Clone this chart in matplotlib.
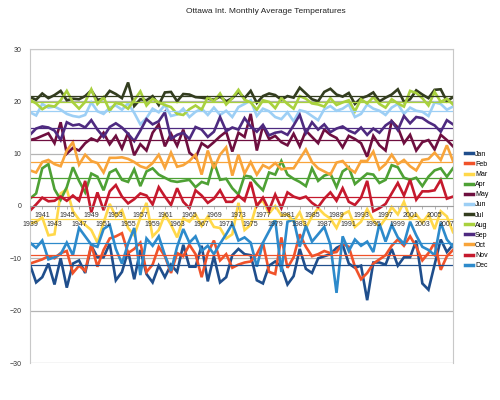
import numpy as np
import matplotlib
matplotlib.use("Agg")
import matplotlib.pyplot as plt

plt.rcParams['font.family'] = ['Liberation Sans', 'DejaVu Sans']

years = list(range(1939, 2009))
months = ["Jan", "Feb", "Mar", "Apr", "May", "Jun", "Jul", "Aug", "Sep", "Oct", "Nov", "Dec"]
colors = ["#1f4e8c", "#f0522a", "#ffd84a", "#4ea135", "#6e0f3f", "#9dcff5",
          "#333d1f", "#a9d13e", "#4e2a80", "#f8a43a", "#c5192d", "#2d8acb"]

jan = [-11.2, -14.6, -13.6, -11.0, -15.0, -10.0, -15.6, -11.0, -10.4, -12.8,
       -7.6, -9.8, -9.8, -7.2, -14.2, -12.6, -8.6, -14.0, -8.4, -13.0,
       -14.6, -11.4, -13.6, -11.2, -12.6, -7.4, -11.6, -11.6, -7.6, -14.4,
       -9.6, -14.6, -13.6, -9.4, -8.2, -9.2, -9.4, -14.2, -14.8, -11.4,
       -10.6, -11.6, -15.0, -13.4, -8.2, -12.0, -12.8, -10.0, -9.6, -9.2,
       -8.0, -7.4, -11.0, -11.8, -11.4, -18.0, -10.8, -10.8, -11.2, -8.2,
       -11.4, -9.8, -9.8, -6.6, -14.8, -16.0, -11.2, -6.4, -8.8, -7.4]
feb = [-11.0, -10.6, -10.2, -9.6, -10.0, -9.0, -8.6, -12.8, -11.4, -12.4,
       -7.4, -11.6, -8.4, -6.2, -5.8, -5.2, -9.0, -8.2, -7.0, -12.6,
       -11.2, -7.8, -9.6, -12.8, -9.0, -9.6, -7.4, -9.2, -13.6, -9.0,
       -6.6, -10.4, -9.2, -11.8, -11.2, -10.8, -10.6, -9.2, -7.0, -12.6,
       -13.0, -6.0, -11.8, -9.8, -5.4, -7.8, -9.6, -9.2, -8.6, -9.0,
       -8.8, -7.2, -7.8, -11.6, -14.0, -12.8, -11.0, -10.2, -9.4, -7.6,
       -6.4, -7.6, -5.8, -7.8, -10.4, -9.0, -7.0, -12.2, -9.6, -8.4]
mar = [-3.4, -3.0, -2.2, -5.6, -5.4, 2.4, 3.2, -1.0, -2.6, -3.6,
       -4.6, -7.0, -3.2, 0.4, -2.0, -0.8, -4.2, -5.6, -2.2, 0.6,
       -5.8, -4.6, -1.6, -3.6, -6.0, -2.4, -3.0, -1.6, -3.8, -2.0,
       -4.0, -4.2, -6.2, -5.4, 0.6, -4.6, -3.6, 0.4, 1.0, -1.4,
       0.0, -1.8, -1.6, -3.0, -1.2, -4.2, -2.0, -0.4, -1.6, -2.4,
       -4.2, -1.6, -1.0, -4.0, -3.0, -0.6, -2.8, -4.0, -2.4, -0.2,
       -1.6, 0.8, -2.4, -1.6, -3.2, -1.6, -4.4, -1.0, -2.0, -5.0]
apr = [1.4, 2.4, 7.2, 8.0, 3.2, 1.2, 3.6, 7.4, 4.8, 2.6,
       6.2, 5.6, 3.0, 6.4, 7.0, 5.0, 4.6, 7.0, 3.8, 6.6,
       7.2, 6.0, 5.4, 4.8, 4.6, 4.8, 5.0, 3.6, 4.6, 4.2,
       8.4, 5.0, 5.2, 3.4, 2.2, 5.8, 5.6, 4.2, 3.0, 6.4,
       6.0, 8.6, 6.0, 5.2, 4.6, 3.8, 7.2, 4.8, 5.8, 6.2,
       3.6, 6.6, 7.4, 4.2, 5.2, 6.2, 6.0, 4.4, 5.0, 7.8,
       7.4, 5.4, 5.0, 5.4, 3.8, 5.6, 6.8, 7.2, 5.6, 7.2]
may = [12.6, 12.9, 13.4, 13.9, 12.0, 16.0, 10.0, 11.1, 10.6, 12.0,
       12.9, 12.4, 14.0, 11.8, 13.4, 11.0, 14.0, 9.7, 11.8, 10.6,
       14.0, 15.6, 11.4, 13.8, 11.5, 14.6, 10.2, 9.2, 12.0, 11.2,
       12.2, 13.3, 14.2, 10.4, 14.0, 13.2, 17.6, 10.6, 15.3, 12.8,
       13.4, 12.2, 11.6, 13.8, 11.4, 14.4, 13.2, 12.0, 14.6, 13.6,
       13.0, 11.2, 13.4, 12.8, 12.0, 9.4, 13.4, 11.6, 10.6, 16.2,
       15.0, 12.0, 13.6, 10.6, 12.2, 12.6, 10.8, 13.6, 12.6, 11.4]
jun = [17.9, 17.3, 19.5, 18.8, 19.0, 18.4, 17.6, 17.2, 17.0, 17.4,
       19.8, 18.1, 17.6, 18.8, 19.2, 18.4, 19.6, 17.8, 15.6, 16.8,
       18.6, 17.9, 19.3, 17.2, 17.5, 18.6, 17.0, 18.0, 18.6, 17.4,
       18.8, 17.4, 18.2, 17.0, 18.9, 19.5, 20.2, 17.2, 18.6, 18.1,
       17.0, 16.6, 17.9, 16.2, 18.3, 18.0, 17.2, 16.4, 18.5, 19.1,
       18.2, 18.6, 19.4, 17.0, 17.6, 19.4, 18.6, 18.2, 17.4, 18.8,
       19.5, 17.6, 18.8, 18.2, 18.0, 17.2, 19.8, 19.5, 18.4, 19.0]
jul = [20.8, 20.3, 21.5, 20.6, 21.2, 22.0, 20.2, 20.5, 20.4, 21.0,
       22.1, 20.3, 20.5, 22.0, 21.4, 20.6, 23.6, 19.1, 20.4, 20.2,
       21.0, 19.3, 21.7, 21.8, 20.0, 21.4, 21.3, 20.8, 20.7, 20.5,
       20.3, 20.9, 20.0, 20.6, 21.8, 20.6, 22.0, 19.7, 21.0, 21.5,
       21.2, 20.3, 21.0, 20.7, 22.6, 21.5, 20.4, 20.0, 21.8, 22.4,
       21.3, 20.9, 21.6, 19.5, 20.6, 21.0, 21.7, 20.0, 20.7, 21.3,
       22.3, 19.9, 20.4, 22.1, 21.3, 20.6, 22.2, 22.3, 20.0, 20.8]
aug = [20.3, 19.6, 18.5, 19.2, 19.0, 20.2, 22.0, 19.8, 18.6, 19.9,
       22.3, 19.5, 20.8, 18.2, 19.7, 19.4, 18.6, 20.2, 21.9, 19.2,
       20.5, 19.8, 19.3, 18.9, 17.6, 17.4, 18.5, 19.2, 18.4, 20.8,
       20.0, 21.5, 19.4, 20.6, 22.2, 20.3, 19.8, 18.4, 20.2, 19.9,
       18.7, 20.6, 19.5, 18.6, 21.0, 20.5, 19.6, 19.4, 19.0, 20.6,
       19.3, 19.8, 20.2, 18.1, 20.4, 19.6, 20.8, 19.5, 18.8, 20.4,
       19.6, 19.0, 22.0, 21.6, 20.6, 19.2, 21.8, 19.9, 20.5, 19.4]
sep = [13.6, 14.8, 15.2, 15.0, 14.4, 12.6, 16.0, 15.4, 15.6, 15.0,
       16.4, 14.6, 13.2, 15.1, 15.8, 15.0, 13.8, 12.4, 14.4, 16.6,
       15.6, 16.2, 17.9, 12.8, 13.6, 14.0, 12.8, 15.1, 14.6, 13.2,
       14.2, 17.0, 14.3, 15.0, 14.6, 16.8, 15.2, 14.2, 15.5, 13.5,
       14.0, 14.2, 13.6, 15.4, 17.4, 13.9, 16.0, 14.6, 15.6, 14.1,
       14.8, 15.2, 14.4, 13.9, 15.0, 13.6, 14.8, 14.0, 15.4, 16.2,
       14.5, 17.2, 15.8, 17.0, 16.8, 16.0, 15.4, 14.2, 16.4, 15.6]
oct_ = [6.8, 6.4, 8.4, 8.8, 8.0, 7.6, 10.6, 12.2, 7.9, 9.8,
        8.6, 8.2, 6.4, 9.2, 9.2, 9.3, 9.0, 8.4, 7.6, 7.2,
        8.2, 9.8, 7.3, 10.2, 7.5, 7.8, 8.6, 9.8, 6.0, 10.6,
        7.2, 9.8, 11.2, 5.8, 9.8, 6.2, 8.4, 6.0, 7.8, 7.2,
        8.2, 7.0, 7.2, 7.2, 9.0, 10.8, 8.4, 7.2, 6.6, 6.0,
        8.3, 8.6, 7.2, 6.4, 8.6, 8.6, 10.4, 7.0, 8.0, 9.8,
        8.0, 8.8, 7.6, 6.8, 8.8, 9.0, 10.2, 8.8, 11.6, 8.6]
nov = [-0.9, 0.3, 1.6, 0.9, 1.0, 1.8, 1.0, 2.0, 1.0, 4.8,
       -1.2, 2.6, -0.8, 2.8, 4.0, 1.8, 0.5, 1.3, 2.4, 2.0,
       0.3, 3.6, 1.8, 0.2, 3.4, 0.8, -0.4, 3.0, 2.0, 0.6,
       1.4, 3.0, 0.8, 0.8, 2.0, 1.0, 4.6, 0.0, 1.6, -0.8,
       2.2, -0.4, 2.6, 1.8, 1.4, 1.8, 0.6, -0.2, 1.4, 2.6,
       1.0, 3.4, 0.8, 0.2, 1.6, 4.8, -1.0, -0.4, 0.4, 2.4,
       4.4, 2.0, 5.0, 1.2, 2.8, 2.8, 3.0, 5.0, 1.4, 1.8]
dec = [-7.0, -8.0, -6.6, -10.2, -9.8, -9.2, -7.0, -9.4, -4.2, -5.8,
       -7.4, -7.8, -4.4, -3.6, -8.2, -11.0, -7.2, -4.2, -13.2, -6.2,
       -7.6, -5.8, -9.4, -12.4, -7.8, -4.4, -7.0, -5.8, -8.6, -7.6,
       -9.2, -7.2, -5.4, -3.4, -6.6, -6.0, -7.0, -11.6, -7.0, -4.8,
       -2.6, -12.6, -3.0, -2.6, -7.8, -3.8, -6.8, -5.4, -4.0, -7.4,
       -16.6, -5.8, -8.6, -6.4, -7.6, -6.8, -8.8, -3.4, -6.8, -3.6,
       -6.0, -7.2, -3.0, -5.6, -7.8, -8.4, -9.4, -3.2, -6.4, -7.8]

series = [jan, feb, mar, apr, may, jun, jul, aug, sep, oct_, nov, dec]

fig = plt.figure(figsize=(5, 4), dpi=100)
ax = fig.add_axes([0.06, 0.0925, 0.846, 0.785])
ax.set_axisbelow(False)

# grid every 10 degrees
for v in range(-30, 31, 10):
    ax.axhline(v, color="#b4b4b4", lw=0.9, zorder=0.5)

# monthly series and their long-term average lines
for name, vals, c in zip(months, series, colors):
    ax.plot(years, vals, color=c, lw=1.9, label=name, solid_joinstyle="miter", zorder=2)
for vals, c in zip(series, colors):
    ax.axhline(np.mean(vals), color=c, lw=0.9, zorder=2.2)

ax.set_xlim(years[0], years[-1])
ax.set_ylim(-30, 30)
ax.set_yticks(range(-30, 31, 10))
ax.tick_params(axis="y", labelsize=5, length=0, pad=6, colors="#333333")

# category axis crosses at 0, labels staggered over two rows
ax.spines["bottom"].set_position(("data", 0))
ax.spines["bottom"].set_color("#999999")
ax.spines["bottom"].set_linewidth(0.6)
upper_years = years[2::4]
lower_years = years[0::4]
ax.set_xticks(upper_years)
ax.set_xticklabels([str(y) for y in upper_years])
ax.set_xticks(lower_years, minor=True)
ax.set_xticklabels([str(y) for y in lower_years], minor=True)
ax.tick_params(axis="x", which="major", labelsize=5, length=2, width=0.5, color="#999999",
               pad=2, labelcolor="#333333")
ax.tick_params(axis="x", which="minor", labelsize=5, length=2, width=0.5, color="#999999",
               pad=9, labelcolor="#333333")
for s in ["top", "right", "left"]:
    ax.spines[s].set_color("#c8c8c8")
    ax.spines[s].set_linewidth(0.8)

fig.text(0.532, 0.972, "Ottawa Int. Monthly Average Temperatures", ha="center", va="center",
         fontsize=6, color="#222222")

leg = ax.legend(loc="upper left", bbox_to_anchor=(0.925, 0.63), bbox_transform=fig.transFigure,
                frameon=False, fontsize=5, handlelength=1.1, handletextpad=0.3,
                labelspacing=0.45, borderaxespad=0)
for h in leg.get_lines():
    h.set_linewidth(2.5)

fig.savefig("out.png", dpi=100)
